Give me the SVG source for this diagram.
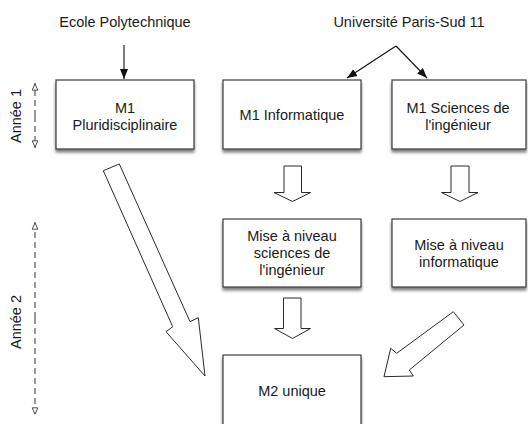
<svg xmlns="http://www.w3.org/2000/svg" width="528" height="424" viewBox="0 0 528 424">
<defs>
<filter id="sh" x="-10%" y="-10%" width="120%" height="130%">
<feGaussianBlur in="SourceAlpha" stdDeviation="1.8"/>
<feOffset dx="0" dy="3" result="b"/>
<feComponentTransfer><feFuncA type="linear" slope="0.5"/></feComponentTransfer>
<feMerge><feMergeNode/><feMergeNode in="SourceGraphic"/></feMerge>
</filter>
<marker id="fa" viewBox="0 0 10 10" refX="10" refY="5" markerWidth="10" markerHeight="10" markerUnits="userSpaceOnUse" orient="auto">
<path d="M0,1 L10,5 L0,9 Z" fill="#111"/>
</marker>
<marker id="ha" viewBox="0 0 10 10" refX="10" refY="5" markerWidth="8" markerHeight="8" markerUnits="userSpaceOnUse" orient="auto">
<path d="M1,1.5 L9,5 L1,8.5 Z" fill="#fff" stroke="#444" stroke-width="1.2"/>
</marker>
</defs>
<style>
.box{fill:#fff;stroke:#3a3a3a;stroke-width:1.2;filter:url(#sh)}
text{font-family:"Liberation Sans",Arial,Helvetica,sans-serif;font-size:14.5px;fill:#1a1a1a;text-anchor:middle}
.blk{fill:#fff;stroke:#2a2a2a;stroke-width:1;stroke-linejoin:miter}
.ln{fill:none;stroke:#111;stroke-width:1.1}
.dash{fill:none;stroke:#555;stroke-width:1.2;stroke-dasharray:6,4}
</style>
<rect width="528" height="424" fill="#fff"/>

<g id="label-ecole"><text x="125" y="27">Ecole Polytechnique</text></g>
<g id="label-univ"><text x="409" y="27">Université Paris-Sud 11</text></g>

<g id="annee1">
<text transform="translate(21,116) rotate(-90)">Année 1</text>
<line class="dash" x1="35" y1="116" x2="35" y2="83" marker-end="url(#ha)"/>
<line class="dash" x1="35" y1="116" x2="35" y2="148" marker-end="url(#ha)"/>
</g>
<g id="annee2">
<text transform="translate(21,322) rotate(-90)">Année 2</text>
<line class="dash" x1="35" y1="318" x2="35" y2="222" marker-end="url(#ha)"/>
<line class="dash" x1="35" y1="318" x2="35" y2="415" marker-end="url(#ha)"/>
</g>

<g id="m1-pluri">
<rect class="box" x="56" y="80" width="138" height="69"/>
<text x="125" y="113">M1</text>
<text x="125" y="130">Pluridisciplinaire</text>
</g>
<g id="m1-info">
<rect class="box" x="223" y="80" width="138" height="69"/>
<text x="292" y="120">M1 Informatique</text>
</g>
<g id="m1-sci">
<rect class="box" x="392" y="80" width="134" height="69"/>
<text x="458" y="113">M1 Sciences de</text>
<text x="458" y="130">l'ingénieur</text>
</g>
<g id="man-sci">
<rect class="box" x="223" y="219" width="138" height="68"/>
<text x="292" y="241">Mise à niveau</text>
<text x="292" y="258">sciences de</text>
<text x="292" y="275">l'ingénieur</text>
</g>
<g id="man-info">
<rect class="box" x="392" y="219" width="134" height="68"/>
<text x="459" y="250">Mise à niveau</text>
<text x="459" y="267">informatique</text>
</g>
<g id="m2">
<rect class="box" x="223" y="355" width="138" height="76"/>
<text x="292" y="396">M2 unique</text>
</g>

<g id="connectors">
<line class="ln" x1="124" y1="45" x2="124" y2="79" marker-end="url(#fa)"/>
<line class="ln" x1="396" y1="46" x2="347" y2="78" marker-end="url(#fa)"/>
<line class="ln" x1="396" y1="46" x2="427" y2="78" marker-end="url(#fa)"/>
<path class="blk" d="M284,166 H301.5 V192.5 H310.5 L292.5,201.5 L274,192.5 H284 Z"/>
<path class="blk" d="M451,166 H469 V192.5 H478 L460,201.5 L441.5,192.5 H451 Z"/>
<path class="blk" d="M283.5,298 H301 V328.5 H310.5 L292.5,338.5 L274.5,328.5 H283.5 Z"/>
<path class="blk" d="M103.3,170.7 L119.3,164 L190,321.7 L198.3,317.7 L205,376 L166,331.7 L172.7,326.7 Z"/>
<path class="blk" d="M453.3,311.7 L464,325 L409.3,370 L413.3,376 L384,376.7 L390.7,348.3 L396.7,353.3 Z"/>
</g>
</svg>
